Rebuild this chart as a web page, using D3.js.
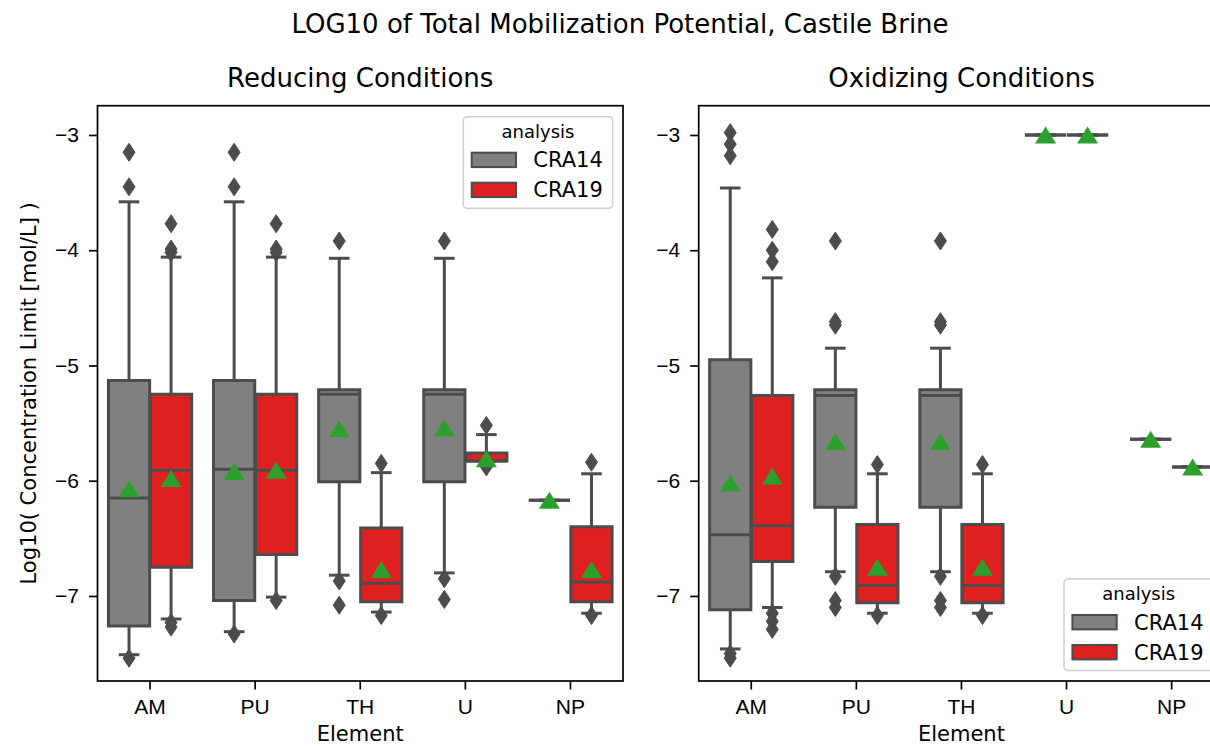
<!DOCTYPE html>
<html>
<head>
<meta charset="utf-8">
<title>LOG10 of Total Mobilization Potential, Castile Brine</title>
<style>
  body { margin: 0; background: #fff; }
  svg { font-family: "DejaVu Sans", sans-serif; display: block; }
  .tick line { stroke: #000; stroke-width: 1.7px; }
  .tick text { font-size: 21px; fill: #000; }
  .frame { fill: none; stroke: #000; stroke-width: 1.7px; }
  .box { stroke: #4c4c4c; stroke-width: 3px; }
  .whisker { stroke: #4c4c4c; stroke-width: 3px; fill: none; }
  .flier { fill: #4c4c4c; stroke: #4c4c4c; stroke-width: 1px; }
  .mean { fill: #2ca02c; }
</style>
</head>
<body>
<script src="https://cdnjs.cloudflare.com/ajax/libs/d3/7.8.5/d3.min.js"></script>
<script>

var elements = ["AM", "PU", "TH", "U", "NP"];
var analyses = ["CRA14", "CRA19"];
var fills = ["#808080", "#df2020"];
var yTicks = [-3, -4, -5, -6, -7];

// box stats per element: [lower whisker, q1, median, q3, upper whisker]
var reducingCRA14 = [
  [-7.51, -7.26, -6.15, -5.13, -3.58],
  [-7.31, -7.04, -5.90, -5.13, -3.58],
  [-6.82, -6.01, -5.25, -5.21, -4.07],
  [-6.80, -6.01, -5.25, -5.21, -4.07],
  [-6.17, -6.17, -6.17, -6.17, -6.17]
];
var reducingCRA14Means = [-6.07, -5.92, -5.55, -5.54, -6.17];
var reducingCRA14Fliers = [
  [-3.15, -3.45, -7.54],
  [-3.15, -3.45, -7.33],
  [-3.92, -6.87, -7.08],
  [-3.92, -6.85, -7.03],
  []
];

var reducingCRA19 = [
  [-7.20, -6.75, -5.91, -5.25, -4.06],
  [-7.01, -6.64, -5.91, -5.25, -4.06],
  [-7.14, -7.05, -6.89, -6.41, -5.93],
  [-5.83, -5.83, -5.83, -5.76, -5.60],
  [-7.15, -7.05, -6.88, -6.40, -5.94]
];
var reducingCRA19Means = [-5.98, -5.91, -6.77, -5.81, -6.77];
var reducingCRA19Fliers = [
  [-3.77, -3.99, -4.02, -7.23, -7.27],
  [-3.77, -3.99, -4.02, -7.04],
  [-5.85, -7.17],
  [-5.52, -5.88],
  [-5.84, -7.17]
];

var oxidizingCRA14 = [
  [-7.46, -7.12, -6.47, -4.95, -3.46],
  [-6.79, -6.23, -5.26, -5.21, -4.85],
  [-6.79, -6.23, -5.26, -5.21, -4.85],
  [-3.00, -3.00, -3.00, -3.00, -3.00],
  [-5.64, -5.64, -5.64, -5.64, -5.64]
];
var oxidizingCRA14Means = [-6.02, -5.66, -5.66, -3.00, -5.64];
var oxidizingCRA14Fliers = [
  [-2.98, -3.08, -3.18, -7.50, -7.54],
  [-3.92, -4.62, -4.65, -6.83, -7.04, -7.10],
  [-3.92, -4.62, -4.65, -6.83, -7.04, -7.10],
  [],
  []
];

var oxidizingCRA19 = [
  [-7.10, -6.70, -6.39, -5.26, -4.24],
  [-7.15, -7.06, -6.91, -6.38, -5.94],
  [-7.15, -7.06, -6.91, -6.38, -5.94],
  [-3.00, -3.00, -3.00, -3.00, -3.00],
  [-5.88, -5.88, -5.88, -5.88, -5.88]
];
var oxidizingCRA19Means = [-5.96, -6.75, -6.75, -3.00, -5.88];
var oxidizingCRA19Fliers = [
  [-3.82, -4.00, -4.10, -7.15, -7.22, -7.29],
  [-5.86, -7.17],
  [-5.86, -7.17],
  [],
  []
];

var width = 1210, height = 746;
var plotTop = 105.7, plotBottom = 681, panelW = 525.5;

var svg = d3.select("body").append("svg")
  .attr("width", width)
  .attr("height", height);

var y = d3.scaleLinear().domain([-7.738, -2.746]).range([plotBottom, plotTop]);

svg.append("text")
  .attr("x", 620).attr("y", 33)
  .attr("text-anchor", "middle")
  .style("font-size", "26px")
  .text("LOG10 of Total Mobilization Potential, Castile Brine");

svg.append("text")
  .attr("transform", "translate(36," + ((plotTop + plotBottom) / 2) + ") rotate(-90)")
  .attr("text-anchor", "middle")
  .style("font-size", "21px")
  .text("Log10( Concentration Limit [mol/L] )");

function drawPanel(x0, title, stats, means, fliers, legend) {
  var x = d3.scaleBand().domain(elements).range([x0, x0 + panelW]);
  var bw = x.bandwidth();
  var hueW = bw * 0.8 / analyses.length;
  var boxW = hueW * 0.98;
  var g = svg.append("g");

  g.append("g")
    .attr("transform", "translate(" + x0 + ",0)")
    .call(d3.axisLeft(y).tickValues(yTicks).tickFormat(d3.format("d"))
      .tickSize(8.5).tickPadding(10).tickSizeOuter(0))
    .call(function(a) { a.select(".domain").remove(); });

  g.append("g")
    .attr("transform", "translate(0," + plotBottom + ")")
    .call(d3.axisBottom(x).tickSize(8.5).tickPadding(10).tickSizeOuter(0))
    .call(function(a) { a.select(".domain").remove(); });

  analyses.forEach(function(name, i) {
    elements.forEach(function(el, j) {
      var s = stats[i][j];
      var cx = x(el) + bw / 2 + (i - (analyses.length - 1) / 2) * hueW;
      var bg = g.append("g");

      // whiskers and caps
      [[s[1], s[0]], [s[3], s[4]]].forEach(function(w) {
        bg.append("line").attr("class", "whisker")
          .attr("x1", cx).attr("x2", cx)
          .attr("y1", y(w[0])).attr("y2", y(w[1]));
        bg.append("line").attr("class", "whisker")
          .attr("x1", cx - boxW / 4).attr("x2", cx + boxW / 4)
          .attr("y1", y(w[1])).attr("y2", y(w[1]));
      });

      // box as a path so a flat box still shows its edge
      bg.append("path").attr("class", "box")
        .attr("fill", fills[i])
        .attr("d", "M" + (cx - boxW / 2) + "," + y(s[3]) +
          "H" + (cx + boxW / 2) + "V" + y(s[1]) +
          "H" + (cx - boxW / 2) + "Z");

      bg.append("line").attr("class", "whisker")
        .attr("x1", cx - boxW / 2).attr("x2", cx + boxW / 2)
        .attr("y1", y(s[2])).attr("y2", y(s[2]));

      bg.selectAll(".flier")
        .data(fliers[i][j])
        .enter().append("path")
        .attr("class", "flier")
        .attr("d", function(v) {
          var fy = y(v);
          return "M" + cx + "," + (fy - 9) + "L" + (cx + 6) + "," + fy +
            "L" + cx + "," + (fy + 9) + "L" + (cx - 6) + "," + fy + "Z";
        });

      var my = y(means[i][j]);
      bg.append("path").attr("class", "mean")
        .attr("d", "M" + cx + "," + (my - 8.5) + "L" + (cx + 10.5) + "," + (my + 8.5) +
          "L" + (cx - 10.5) + "," + (my + 8.5) + "Z");
    });
  });

  g.append("rect").attr("class", "frame")
    .attr("x", x0).attr("y", plotTop)
    .attr("width", panelW).attr("height", plotBottom - plotTop);

  g.append("text")
    .attr("x", x0 + panelW / 2).attr("y", 87)
    .attr("text-anchor", "middle")
    .style("font-size", "26px")
    .text(title);

  g.append("text")
    .attr("x", x0 + panelW / 2).attr("y", 741)
    .attr("text-anchor", "middle")
    .style("font-size", "21px")
    .text("Element");

  // legend
  var lg = g.append("g").attr("transform", "translate(" + legend[0] + "," + legend[1] + ")");
  lg.append("rect")
    .attr("width", 149.3).attr("height", 91.6).attr("rx", 4)
    .attr("fill", "#fff").attr("fill-opacity", 0.8)
    .attr("stroke", "#d0d0d0").attr("stroke-width", 1.5);
  lg.append("text")
    .attr("x", 74.7).attr("y", 21)
    .attr("text-anchor", "middle")
    .style("font-size", "18px")
    .text("analysis");
  analyses.forEach(function(name, i) {
    lg.append("rect")
      .attr("x", 8.4).attr("y", 36 + i * 30)
      .attr("width", 44.3).attr("height", 14.4)
      .attr("fill", fills[i])
      .attr("stroke", "#4c4c4c").attr("stroke-width", 2);
    lg.append("text")
      .attr("x", 70).attr("y", 50.5 + i * 30)
      .style("font-size", "21px")
      .text(name);
  });
}

drawPanel(97.5, "Reducing Conditions",
  [reducingCRA14, reducingCRA19],
  [reducingCRA14Means, reducingCRA19Means],
  [reducingCRA14Fliers, reducingCRA19Fliers],
  [463.3, 116.7]);

drawPanel(698.7, "Oxidizing Conditions",
  [oxidizingCRA14, oxidizingCRA19],
  [oxidizingCRA14Means, oxidizingCRA19Means],
  [oxidizingCRA14Fliers, oxidizingCRA19Fliers],
  [1064, 579]);

</script>
</body>
</html>
